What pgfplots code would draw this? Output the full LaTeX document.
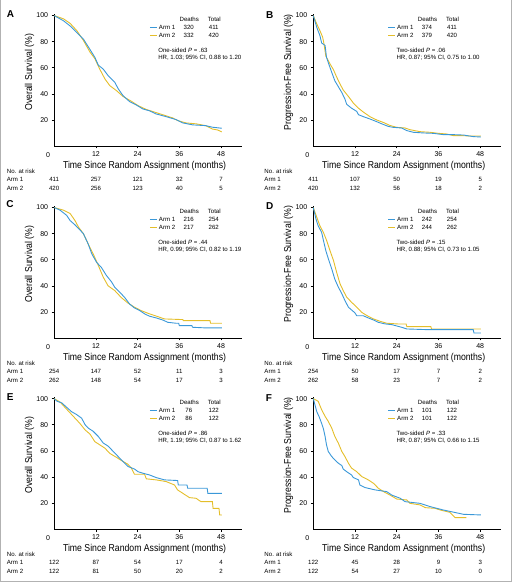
\documentclass[border=0pt]{standalone}
\usepackage{fontspec}
\setmainfont{Liberation Sans}
\usepackage{graphicx}
\usepackage{pgfplots}
\pgfplotsset{compat=1.18}
\definecolor{armblue}{RGB}{58,152,216}
\definecolor{armyellow}{RGB}{228,190,42}
\newcommand{\tickf}{\fontsize{7}{8}\selectfont}
\newcommand{\lgf}{\fontsize{6.1}{7}\selectfont}
\newcommand{\titf}[1]{\scalebox{0.87}[1]{\fontsize{10}{12}\selectfont #1}}

\tikzset{
  a1/.style={armblue, line width=0.9pt},
  a2/.style={armyellow, line width=0.9pt},
}
\pgfplotsset{
  km/.style={
    scale only axis, width=187.9pt, height=131.8pt,
    xmin=0, xmax=54, ymin=0, ymax=101,
    axis x line*=bottom, axis y line*=left,
    axis line style={-, line width=0.6pt},
    xtick={12,24,36,48}, ytick={20,40,60,80,100},
    tick align=outside, major tick length=2.5pt,
    tick style={black, line width=0.5pt},
    ticklabel style={font=\tickf},
    /pgf/number format/assume math mode=true,
    clip=false, anchor=south west,
  },
}

% legend: #1 line start (months), #2 d1, #3 t1, #4 d2, #5 t2, #6 P line, #7 HR line
\newcommand{\kmlegend}[7]{%
 \node[font=\lgf,inner sep=0pt] at ([xshift=39.5pt,yshift=8.4pt]axis cs:#1,91) {Deaths};
 \node[font=\lgf,inner sep=0pt] at ([xshift=64.5pt,yshift=8.4pt]axis cs:#1,91) {Total};
 \draw[a1] (axis cs:#1,91) -- ([xshift=7.3pt]axis cs:#1,91);
 \node[font=\lgf,anchor=west,inner sep=0pt] at ([xshift=9pt]axis cs:#1,91) {Arm 1};
 \node[font=\lgf,inner sep=0pt] at ([xshift=39pt]axis cs:#1,91) {#2};
 \node[font=\lgf,inner sep=0pt] at ([xshift=64pt]axis cs:#1,91) {#3};
 \draw[a2] ([yshift=-8.3pt]axis cs:#1,91) -- ([xshift=7.3pt,yshift=-8.3pt]axis cs:#1,91);
 \node[font=\lgf,anchor=west,inner sep=0pt] at ([xshift=9pt,yshift=-8.3pt]axis cs:#1,91) {Arm 2};
 \node[font=\lgf,inner sep=0pt] at ([xshift=39pt,yshift=-8.3pt]axis cs:#1,91) {#4};
 \node[font=\lgf,inner sep=0pt] at ([xshift=64pt,yshift=-8.3pt]axis cs:#1,91) {#5};
 \node[font=\lgf,anchor=west,inner sep=0pt] at ([xshift=8.3pt,yshift=-22.8pt]axis cs:#1,91) {#6};
 \node[font=\lgf,anchor=west,inner sep=0pt] at ([xshift=8.3pt,yshift=-30.6pt]axis cs:#1,91) {#7};
}
\newcommand{\risklab}[1]{%
 \node[font=\lgf,anchor=west,inner sep=0pt] at (axis cs:#1,-19.5) {No. at risk};
 \node[font=\lgf,anchor=west,inner sep=0pt] at (axis cs:#1,-25.9) {Arm 1};
 \node[font=\lgf,anchor=west,inner sep=0pt] at (axis cs:#1,-32.2) {Arm 2};
}
\newcommand{\riskrow}[6]{%
 \node[font=\lgf,inner sep=0pt] at (axis cs:0,#1) {#2};
 \node[font=\lgf,inner sep=0pt] at (axis cs:12,#1) {#3};
 \node[font=\lgf,inner sep=0pt] at (axis cs:24,#1) {#4};
 \node[font=\lgf,inner sep=0pt] at (axis cs:36,#1) {#5};
 \node[font=\lgf,inner sep=0pt] at (axis cs:48,#1) {#6};
}
\newcommand{\axtitles}[1]{%
 \node[font=\tickf,inner sep=0pt] at ([xshift=-6pt,yshift=-9.3pt]axis cs:0,0) {0};
 \node[rotate=90,inner sep=0pt] at (axis cs:-7.1,56.5) {\titf{#1}};
 \node[inner sep=0pt] at (axis cs:26,-15.6) {\titf{Time Since Random Assignment (months)}};
}

\begin{document}
\begin{tikzpicture}
\path (0pt,0pt) rectangle (514pt,582pt);
\draw[gray!60, line width=0.8pt] (0.6pt,582pt) -- (0.6pt,0.6pt) -- (511.5pt,0.6pt) -- (511.5pt,582pt);

\node[font=\fontsize{10}{12}\selectfont\bfseries] at (10.5pt,568.7pt) {A};
\node[font=\fontsize{10}{12}\selectfont\bfseries] at (270pt,567pt) {B};
\node[font=\fontsize{10}{12}\selectfont\bfseries] at (10pt,378pt) {C};
\node[font=\fontsize{10}{12}\selectfont\bfseries] at (270pt,376.5pt) {D};
\node[font=\fontsize{10}{12}\selectfont\bfseries] at (10.3pt,184.7pt) {E};
\node[font=\fontsize{10}{12}\selectfont\bfseries] at (269pt,184.5pt) {F};

% ---------------- A
\begin{axis}[km, at={(54.2pt,436.3pt)}]
\addplot[a2] coordinates {(0,100)(2.7,97.5)(4.6,94)(6.5,88.5)(8.4,81)(10.3,72)(11.7,67)(13.1,59)(14.6,51.4)(16,46.3)(17.9,42.5)(19.8,38)(22.2,34.3)(24.1,31)(26.5,28)(28.4,26.4)(31.2,24)(34.1,21.5)(35.5,19.5)(37.9,17.7)(40.8,17)(43.6,15.6)(45.5,13)(47,12.3)(48.2,10.8)};
\addplot[a1] coordinates {(0,100)(2.7,96)(4.6,92)(6.5,87)(8.4,82)(10.3,74)(11.7,68)(12.7,62)(14.1,59)(15.5,54)(17.4,49)(18.4,44)(19.8,38.6)(21.7,34)(23.6,31.5)(25.5,28.4)(27.4,27)(29.3,24.6)(32.2,22.5)(35,20.3)(37,17.7)(39.8,16.2)(43.6,15.6)(45.5,14.4)(48.2,13.6)};
\kmlegend{27.5}{320}{411}{332}{420}{One-sided \textit{P} = .63}{HR, 1.03; 95\% CI, 0.88 to 1.20}
\risklab{-13.65}
\riskrow{-25.9}{411}{257}{121}{32}{7}
\riskrow{-32.2}{420}{256}{123}{40}{5}
\axtitles{Overall Survival (\%)}
\end{axis}

% ---------------- B
\begin{axis}[km, at={(313.5pt,436.3pt)}]
\addplot[a2] coordinates {(0,100)(1,93.6)(1.9,88.5)(2.7,83.4)(3.1,78)(3.6,69)(4.8,63)(5.8,58.5)(6.7,53)(7.7,47.5)(8.6,43)(10.1,38)(11.5,33)(13,29)(14.4,26)(16.3,22.5)(18.2,20)(20.2,18)(22,15.8)(24,14.3)(26.4,13.8)(27.8,12.5)(30.7,11)(33.6,10.5)(36,9.7)(38.4,9.2)(40.3,7.9)(43.2,7.9)(44.6,7.7)(48.2,7.7)};
\addplot[a1] coordinates {(0,100)(1,91)(1.9,84.7)(2.4,79)(3.4,77)(3.8,68)(4.3,64)(5.3,56.5)(6.2,50)(7.2,45.5)(8.2,41)(9.1,36)(9.6,32)(11,29)(12.5,26.5)(13,24)(14.4,22.5)(16.3,20.7)(18.2,18.7)(19.7,17)(21.6,15)(23,14.3)(25.4,13.8)(26.9,11.8)(28.8,10.5)(31.7,10)(34.5,9.7)(37.4,8.7)(40.3,8.7)(43.2,8.4)(46,7.2)(48.2,6.9)};
\kmlegend{21.5}{374}{411}{379}{420}{Two-sided \textit{P} = .06}{HR, 0.87; 95\% CI, 0.75 to 1.00}
\risklab{-14.1}
\riskrow{-25.9}{411}{107}{50}{19}{5}
\riskrow{-32.2}{420}{132}{56}{18}{2}
\axtitles{Progression-Free Survival (\%)}
\end{axis}

% ---------------- C
\begin{axis}[km, at={(54.2pt,244.2pt)}]
\addplot[a2] coordinates {(0,100)(2.7,98)(4.6,95.4)(6,90)(7,85)(8.4,80)(9.8,72)(11.2,64.6)(12.7,55.6)(14.1,46.7)(15.5,40)(17.4,36.4)(19.3,31)(21.1,27)(23.1,23.6)(25,21)(27.4,18.5)(29.8,16.4)(31.7,14.6)(37,14.1)(37.2,13.3)(44.8,13.3)(45,11.3)(48.2,11.3)};
\addplot[a1] coordinates {(0,100)(1.7,98)(3.6,94)(4.6,90)(6,86.7)(7,84)(8.4,80)(9.8,72)(10.8,64.6)(12.2,58)(13.6,54)(15,48)(16.5,43)(17.4,39)(18.9,35)(20.3,31)(21.7,26)(23.1,23)(24.6,21)(26,18.5)(27.4,16.7)(29.3,15.4)(31.2,13.8)(32.7,12)(35,11.3)(35.8,11.3)(36,9.5)(39.6,9.5)(39.8,8.2)(43.6,7.7)(48.2,7.7)};
\kmlegend{27.5}{216}{254}{217}{262}{One-sided \textit{P} = .44}{HR, 0.99; 95\% CI, 0.82 to 1.19}
\risklab{-13.65}
\riskrow{-25.9}{254}{147}{52}{11}{3}
\riskrow{-32.2}{262}{148}{54}{17}{3}
\axtitles{Overall Survival (\%)}
\end{axis}

% ---------------- D
\begin{axis}[km, at={(313.5pt,244.2pt)}]
\addplot[a2] coordinates {(0,100)(1,92.6)(1.9,86)(2.9,81)(3.8,75)(4.8,67)(5.8,59.5)(6.7,50.5)(7.7,41.5)(8.6,36.4)(9.6,31.3)(11,27.4)(12.5,23.6)(13.9,19.7)(15.4,17.2)(17.3,14.6)(19.2,12.8)(21.1,11.3)(24.5,10.7)(26.7,10.7)(26.9,8.7)(33.8,8.7)(34,6.9)(48.2,6.9)};
\addplot[a1] coordinates {(0,100)(0.8,91)(1.4,86)(2.4,81)(2.9,75)(3.6,67)(4.3,61)(5.3,53)(6.2,45)(7.2,39)(8.2,34)(9.1,28.7)(10.1,23.6)(11,21.5)(12,19.2)(12.5,17)(14.4,17)(15.8,15.4)(17.3,13.8)(18.7,12)(20.6,10.8)(22.6,10.2)(24,9.2)(25.4,8.2)(26.9,6.9)(32.6,6.4)(46,6.4)(46.2,3.8)(48.2,3.8)};
\kmlegend{21.5}{242}{254}{244}{262}{Two-sided \textit{P} = .15}{HR, 0.88; 95\% CI, 0.73 to 1.05}
\risklab{-14.1}
\riskrow{-25.9}{254}{50}{17}{7}{2}
\riskrow{-32.2}{262}{58}{23}{7}{2}
\axtitles{Progression-Free Survival (\%)}
\end{axis}

% ---------------- E
\begin{axis}[km, at={(54.2pt,53pt)}]
\addplot[a2] coordinates {(0,100)(1.7,97.4)(3.1,93.3)(4.6,89)(6,85)(7.4,81)(8.9,76)(10.3,72.8)(11.7,67)(13.1,64.6)(14.6,62)(16,58)(17.9,55)(19.3,52.6)(21.2,49.7)(22.2,46.7)(23.1,42)(26,42)(26.5,38.5)(29.3,37.7)(32.2,36.4)(34.6,33.8)(35.5,30)(37,27.4)(38.9,24.1)(40.8,23.6)(42.2,21)(45.5,21)(45.7,15.9)(47.4,15.9)(47.6,10.8)(48.2,10.8)};
\addplot[a1] coordinates {(0,100)(0.8,98)(2.2,96.7)(3.6,93.3)(5,90)(6.5,87.7)(7.9,85)(8.9,80)(9.8,77.4)(11.2,75)(12.7,71)(14.1,66)(15.5,63.6)(17,59.5)(18.4,55.6)(19.8,51.8)(21.2,48)(23.1,46)(24.1,44)(25.5,42.8)(27.4,41.5)(29.3,39.5)(31.7,37.7)(35.5,37.2)(35.7,33.8)(38.2,33.8)(38.4,31.3)(44,31.3)(44.2,27.4)(48.2,27.4)};
\kmlegend{27.5}{76}{122}{86}{122}{One-sided \textit{P} = .86}{HR, 1.19; 95\% CI, 0.87 to 1.62}
\risklab{-13.65}
\riskrow{-25.9}{122}{87}{54}{17}{4}
\riskrow{-32.2}{122}{81}{50}{20}{2}
\axtitles{Overall Survival (\%)}
\end{axis}

% ---------------- F
\begin{axis}[km, at={(313.5pt,53pt)}]
\addplot[a2] coordinates {(0,100)(1.4,98)(2.4,91.5)(3.4,86.4)(4.3,82.6)(5.3,77.4)(6.2,71)(7.2,65.9)(8.2,59.5)(9.1,55.6)(10.1,50.5)(11,46.7)(12.5,44)(13.9,40.3)(15.8,37.7)(17.3,35.1)(18.7,31.3)(20.2,28.7)(22.1,26)(24,23)(26.9,22.3)(27.8,19.7)(30.7,18.5)(32.2,16.4)(35,15.9)(36.5,14.6)(39.3,12.8)(40.8,8.7)(44,8.7)};
\addplot[a1] coordinates {(0,100)(0.5,95)(1,90)(1.7,86)(2.4,81)(2.9,77)(3.4,71)(3.8,64.6)(4.3,59.5)(5.3,55.6)(6.2,53)(7.2,50.5)(8.2,48.7)(8.6,46)(9.6,44)(11,41.5)(11.5,39.5)(13,37.7)(13.4,33.8)(14.9,31.8)(17.8,30)(21.1,28.7)(22.6,26)(25,23.6)(26.4,21)(30.7,19.7)(33.6,17.2)(37.4,14.6)(43.2,11.3)(48.2,10.8)};
\kmlegend{21.5}{101}{122}{101}{122}{Two-sided \textit{P} = .33}{HR, 0.87; 95\% CI, 0.66 to 1.15}
\risklab{-14.1}
\riskrow{-25.9}{122}{45}{28}{9}{3}
\riskrow{-32.2}{122}{54}{27}{10}{0}
\axtitles{Progression-Free Survival (\%)}
\end{axis}
\end{tikzpicture}
\end{document}
